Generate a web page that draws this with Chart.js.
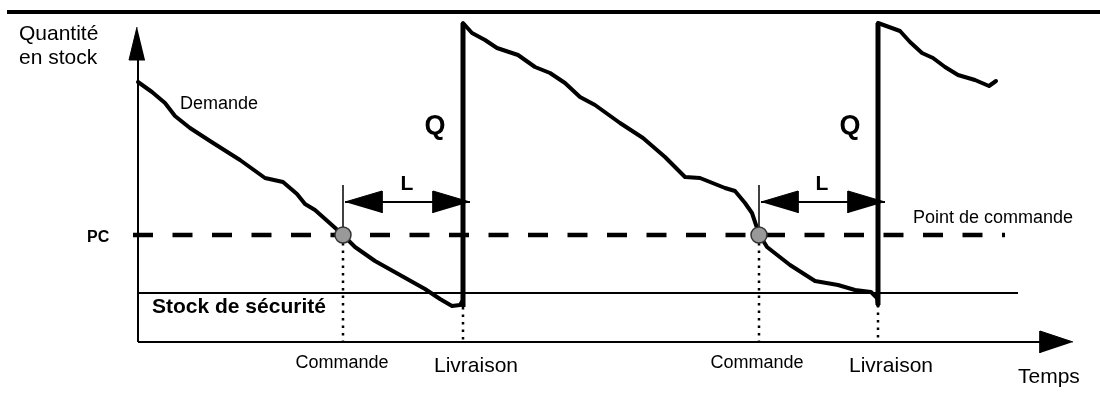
<!DOCTYPE html>
<html lang="fr">
<head>
    <meta charset="UTF-8">
    <title>Point de commande - stock</title>
    <script src="https://cdn.jsdelivr.net/npm/chart.js"></script>
    <style>
        body { margin: 0; background: #fff; }
        #wrap { width: 1100px; height: 394px; }
    </style>
</head>
<body>
    <div id="wrap">
        <canvas id="myChart"></canvas>
    </div>
    <script>
    // time (t) and stock (q) readings, origin where the two axes meet
    const cycle1T = [0, 14, 27, 37, 52, 72, 102, 127, 145, 159, 167, 177, 195, 205, 217, 237, 262, 287, 302, 314, 322, 325];
    const cycle1Q = [260, 250, 239, 226, 214, 201, 182, 164, 160, 148, 138, 132, 116, 107, 95, 81, 67, 53, 43, 36, 37, 42];

    const cycle2T = [325, 334, 347, 359, 380, 397, 412, 427, 442, 457, 482, 505, 527, 547, 562, 587, 597, 607, 614, 621, 629, 652, 677, 700, 717, 733, 739, 740];
    const cycle2Q = [319, 309, 302, 294, 287, 275, 269, 259, 245, 237, 219, 204, 185, 165, 164, 154, 151, 139, 129, 108, 95, 77, 61, 57, 52, 50, 44, 37];

    const cycle3T = [740, 762, 772, 784, 795, 807, 820, 837, 851, 858];
    const cycle3Q = [319, 311, 300, 289, 284, 275, 267, 262, 256, 261];

    const orderTimes = [205, 621];      // Commande
    const deliveryTimes = [325, 740];   // Livraison
    const deliveryLows = [35, 37];
    const deliveryTop = 319;            // stock after receiving Q
    const reorderLevel = 107;           // PC
    const safetyLevel = 49;             // Stock de sécurité
    const leadArrowLevel = 140;         // L arrows
    const leadTickTop = 157;
    const axisTimeEnd = 935;
    const axisStockEnd = 315;
    const frameLevel = 330;

    const toPts = (ts, qs) => ts.map((t, i) => ({ x: t, y: qs[i] }));
    const seg = (x1, y1, x2, y2) => [{ x: x1, y: y1 }, { x: x2, y: y2 }];

    const line = (data, width, extra) => Object.assign({
        data: data,
        showLine: true,
        borderColor: '#000',
        borderWidth: width,
        pointRadius: 0,
        tension: 0,
        borderJoinStyle: 'round',
        fill: false,
        clip: false
    }, extra || {});

    const head = (pts) => line(pts, 1, { fill: 'shape', backgroundColor: '#000', borderJoinStyle: 'miter' });

    const datasets = [];

    // reorder points (on top)
    datasets.push({
        data: orderTimes.map(t => ({ x: t, y: reorderLevel })),
        showLine: false,
        pointRadius: 8,
        pointBackgroundColor: '#999',
        pointBorderColor: '#333',
        pointBorderWidth: 1.5,
        clip: false
    });

    // demand curves
    datasets.push(line(toPts(cycle1T, cycle1Q), 4, { borderCapStyle: 'round' }));
    datasets.push(line(toPts(cycle2T, cycle2Q), 4, { borderCapStyle: 'round' }));
    datasets.push(line(toPts(cycle3T, cycle3Q), 4, { borderCapStyle: 'round' }));

    // deliveries of Q
    deliveryTimes.forEach((t, i) => {
        datasets.push(line(seg(t, deliveryLows[i], t, deliveryTop), 5));
        datasets.push(line(seg(t, deliveryLows[i], t, 0), 2.5, { borderDash: [2.5, 5] }));
    });

    // orders: dotted drop, tick and lead time arrow
    orderTimes.forEach((t, i) => {
        const d = deliveryTimes[i];
        datasets.push(line(seg(t, reorderLevel - 8, t, 0), 2.5, { borderDash: [2.5, 5] }));
        datasets.push(line(seg(t, reorderLevel, t, leadTickTop), 1.5));
        datasets.push(line(seg(t + 2, leadArrowLevel, d + 7, leadArrowLevel), 2));
        datasets.push(head([{ x: t + 2, y: leadArrowLevel }, { x: t + 39, y: leadArrowLevel + 11 }, { x: t + 39, y: leadArrowLevel - 11 }]));
        datasets.push(head([{ x: d + 7, y: leadArrowLevel }, { x: d - 30, y: leadArrowLevel + 11 }, { x: d - 30, y: leadArrowLevel - 11 }]));
    });

    // reorder level and safety stock
    datasets.push(line(seg(-5, reorderLevel, 867, reorderLevel), 4.5, { borderDash: [20, 19.5] }));
    datasets.push(line(seg(0, safetyLevel, 880, safetyLevel), 2));

    // axes
    datasets.push(line(seg(0, 0, axisTimeEnd - 30, 0), 2));
    datasets.push(line(seg(0, 0, 0, axisStockEnd - 30), 2));
    datasets.push(head([{ x: axisTimeEnd, y: 0 }, { x: axisTimeEnd - 33, y: 11 }, { x: axisTimeEnd - 33, y: -11 }]));
    datasets.push(head([{ x: -1, y: axisStockEnd }, { x: -9, y: axisStockEnd - 33 }, { x: 7, y: axisStockEnd - 33 }]));

    // frame line at the top
    datasets.push(line(seg(-131, frameLevel, 962, frameLevel), 4));

    const labels = [
        { text: 'Quantité', t: -119, q: 302, font: '21px "Liberation Sans", Arial', align: 'left' },
        { text: 'en stock', t: -119, q: 278, font: '21px "Liberation Sans", Arial', align: 'left' },
        { text: 'Demande', t: 42, q: 233, font: '18px "Liberation Sans", Arial', align: 'left' },
        { text: 'Q', t: 297, q: 208, font: 'bold 27px "Liberation Sans", Arial', align: 'center' },
        { text: 'Q', t: 712, q: 208, font: 'bold 27px "Liberation Sans", Arial', align: 'center' },
        { text: 'L', t: 269, q: 152, font: 'bold 21px "Liberation Sans", Arial', align: 'center' },
        { text: 'L', t: 684, q: 152, font: 'bold 21px "Liberation Sans", Arial', align: 'center' },
        { text: 'PC', t: -51, q: 100, font: 'bold 16px "Liberation Sans", Arial', align: 'left' },
        { text: 'Point de commande', t: 775, q: 119, font: '18px "Liberation Sans", Arial', align: 'left' },
        { text: 'Stock de sécurité', t: 14, q: 29, font: 'bold 21px "Liberation Sans", Arial', align: 'left' },
        { text: 'Commande', t: 204, q: -26, font: '18px "Liberation Sans", Arial', align: 'center' },
        { text: 'Commande', t: 619, q: -26, font: '18px "Liberation Sans", Arial', align: 'center' },
        { text: 'Livraison', t: 338, q: -30, font: '21px "Liberation Sans", Arial', align: 'center' },
        { text: 'Livraison', t: 753, q: -30, font: '21px "Liberation Sans", Arial', align: 'center' },
        { text: 'Temps', t: 880, q: -41, font: '21px "Liberation Sans", Arial', align: 'left' }
    ];

    const textPlugin = {
        id: 'diagramText',
        afterDatasetsDraw(chart) {
            const ctx = chart.ctx;
            const xs = chart.scales.x, ys = chart.scales.y;
            ctx.save();
            ctx.fillStyle = '#000';
            ctx.textBaseline = 'alphabetic';
            labels.forEach(l => {
                ctx.font = l.font;
                ctx.textAlign = l.align;
                ctx.fillText(l.text, xs.getPixelForValue(l.t), ys.getPixelForValue(l.q));
            });
            ctx.restore();
        }
    };

    const ctx = document.getElementById('myChart').getContext('2d');
    const myChart = new Chart(ctx, {
        type: 'scatter',
        data: { datasets: datasets },
        options: {
            responsive: true,
            maintainAspectRatio: false,
            animation: false,
            layout: { padding: 0, autoPadding: false },
            scales: {
                x: { type: 'linear', min: -138, max: 962, display: false },
                y: { type: 'linear', min: -52, max: 342, display: false }
            },
            plugins: {
                legend: { display: false },
                tooltip: { enabled: false }
            }
        },
        plugins: [textPlugin]
    });
    </script>
</body>
</html>
